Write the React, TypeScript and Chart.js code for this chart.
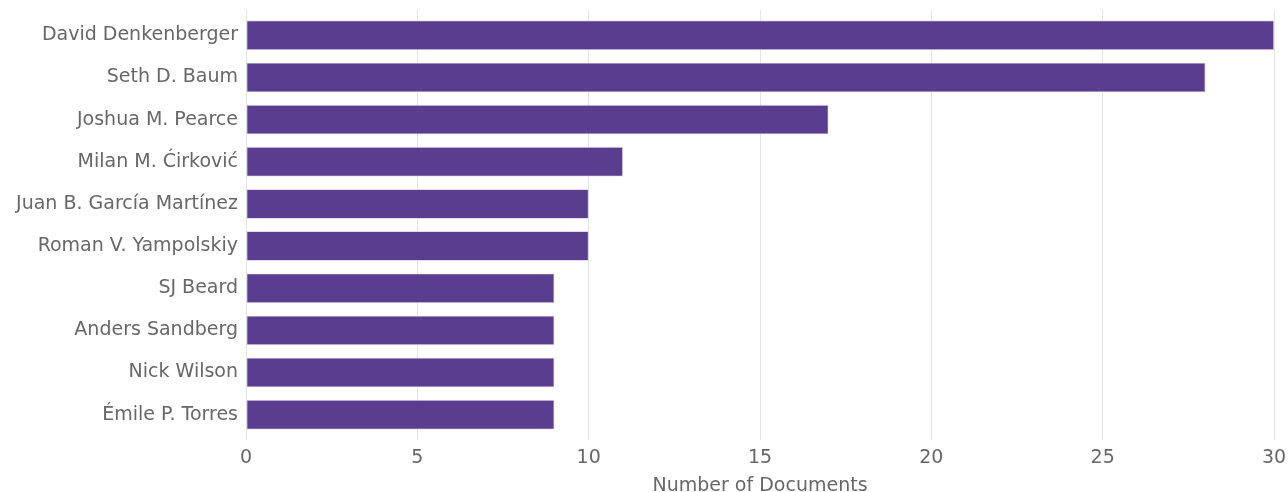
import React, { useEffect, useRef } from "react";
import { Chart, registerables } from "chart.js";

Chart.register(...registerables);

const authors = [
  "David Denkenberger",
  "Seth D. Baum",
  "Joshua M. Pearce",
  "Milan M. Ćirković",
  "Juan B. García Martínez",
  "Roman V. Yampolskiy",
  "SJ Beard",
  "Anders Sandberg",
  "Nick Wilson",
  "Émile P. Torres",
];
const documentCounts = [30, 28, 17, 11, 10, 10, 9, 9, 9, 9];
const xTicks = [0, 5, 10, 15, 20, 25, 30];

const FONT = "'DejaVu Sans', sans-serif";
const TEXT = "#676767";

export default function App() {
  const ref = useRef<HTMLCanvasElement | null>(null);

  useEffect(() => {
    document.body.style.margin = "0";
    const canvas = ref.current;
    if (!canvas) return;
    const chart = new Chart(canvas, {
      type: "bar",
      data: {
        datasets: [
          {
            data: authors.map((_, i) => ({ x: documentCounts[i], y: i })),
            backgroundColor: "#5b3d8f",
            borderColor: "rgba(200,190,225,0.9)",
            borderWidth: 0.8,
            borderSkipped: false,
            barPercentage: 0.7,
            categoryPercentage: 1,
          },
        ],
      },
      options: {
        indexAxis: "y",
        animation: false,
        responsive: false,
        devicePixelRatio: 1,
        layout: { padding: { top: 10, right: 14, bottom: 0, left: 0 } },
        plugins: {
          legend: { display: false },
          tooltip: { enabled: false },
        },
        scales: {
          x: {
            type: "linear",
            min: 0,
            max: 30,
            afterBuildTicks: (axis: any) => {
              axis.ticks = xTicks.map((v) => ({ value: v }));
            },
            afterFit: (axis: any) => {
              axis.height = 52;
              axis.paddingLeft = 0;
              axis.paddingRight = 0;
            },
            grid: {
              color: "#e5e5e5",
              lineWidth: 1,
              drawTicks: false,
            },
            border: { display: false },
            ticks: {
              color: TEXT,
              font: { family: FONT, size: 19 },
              padding: 7,
              maxRotation: 0,
            },
            title: {
              display: true,
              text: "Number of Documents",
              color: TEXT,
              font: { family: FONT, size: 19 },
              padding: { top: 0, bottom: -5 },
            },
          },
          y: {
            type: "linear",
            min: -0.6,
            max: 9.6,
            reverse: true,
            offset: false,
            afterBuildTicks: (axis: any) => {
              axis.ticks = authors.map((_, i) => ({ value: i }));
            },
            afterFit: (axis: any) => {
              axis.width = 246;
              axis.paddingTop = 0;
              axis.paddingBottom = 0;
            },
            grid: { display: false, drawTicks: false, offset: false },
            border: { display: false },
            ticks: {
              color: TEXT,
              font: { family: FONT, size: 19 },
              padding: 8,
              autoSkip: false,
              callback: (v: any) => authors[Number(v)] ?? "",
            },
          },
        },
      },
    });
    return () => chart.destroy();
  }, []);

  return (
    <div style={{ width: 1288, height: 492 }}>
      <canvas ref={ref} width={1288} height={492} style={{ display: "block" }} />
    </div>
  );
}
